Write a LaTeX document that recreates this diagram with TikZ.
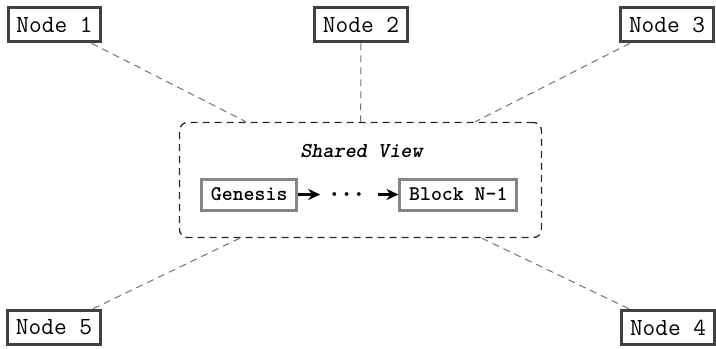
\documentclass[tikz,border=0pt]{standalone}
\usepackage{amsmath,amssymb}
\usepackage{tikz}
\usetikzlibrary{arrows.meta}
\tikzset{peer/.style={draw=black!75,line width=1.5pt,fill=white,font=\fontsize{12.3}{14}\selectfont\ttfamily,inner xsep=4.2pt,inner ysep=0pt,minimum height=17.3pt},
    blockbox/.style={draw=black!48,line width=1.5pt,fill=white,font=\fontsize{10.4}{12}\selectfont\ttfamily\bfseries,inner xsep=4.6pt,inner ysep=0pt,minimum height=15.5pt},
    view/.style={draw=black!85,line width=0.65pt,dash pattern=on 3.5pt off 2.5pt,rounded corners=4pt,minimum width=181pt,minimum height=57.5pt},
    link/.style={draw=black!55,line width=0.5pt,dash pattern=on 3.5pt off 2.5pt},
    chainarrow/.style={-{Stealth[length=6pt,width=5.5pt]},line width=1.2pt}}

\begin{document}
\begin{tikzpicture}[x=0.5pt,y=0.5pt,yscale=-1,xscale=1]
\useasboundingbox (0,0) rectangle (716,348);

%Shape: shared view [id:view]
\node [view] (view) at (360.5,180) {};
% Text Node
\node [font=\fontsize{10.6}{12}\selectfont\ttfamily\bfseries\itshape] (title) at (361.5,151.5) {Shared View};

%Shape: chain of blocks
\node [blockbox] (genesis) at (249.2,194.5) {Genesis};
\node [inner sep=5pt,font=\large] (dots) at (349,194.5) {$\boldsymbol{\cdots}$};
\node [blockbox] (last) at (458.3,194.5) {Block N-1};
\draw [chainarrow] (genesis) -- (dots);
\draw [chainarrow] (dots) -- (last);

%Shape: peers [id:peers]
\node [peer] (n1) at (54.5,24.5) {Node 1};
\node [peer] (n2) at (361,24.5) {Node 2};
\node [peer] (n3) at (667,24.5) {Node 3};
\node [peer] (n5) at (54,327.5) {Node 5};
\node [peer] (n4) at (668,327.5) {Node 4};

%Straight Lines: peers to shared view
\foreach \p in {n1,n2,n3,n4,n5}
  \draw [link] (\p) -- (view);

\end{tikzpicture}
\end{document}
